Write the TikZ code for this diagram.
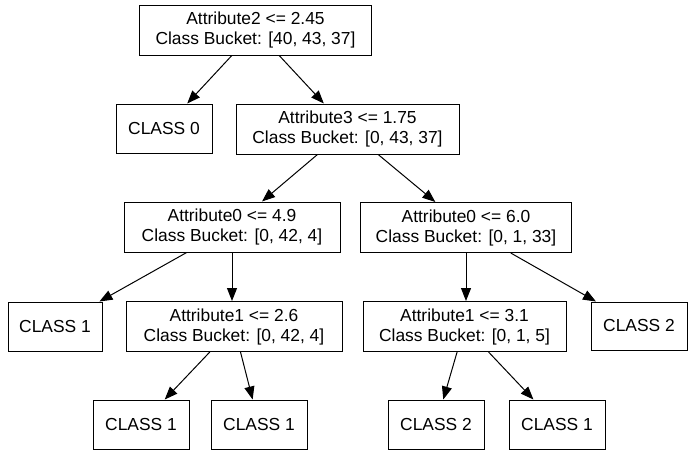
\documentclass[tikz,border=0pt]{standalone}
\usepackage{fontspec}
\setmainfont{Liberation Sans}
\usetikzlibrary{arrows.meta}
\begin{document}
\begin{tikzpicture}[x=1pt,y=-1pt,
  tnode/.style={draw=black,line width=1pt,inner sep=0pt,align=center,
    font=\fontsize{17.4}{20}\selectfont},
  edge/.style={draw=black,line width=1pt,-{Triangle[length=13pt,width=10pt]}}]
\useasboundingbox (0,0) rectangle (692,453);
\fill[white] (0,0) rectangle (692,453);
\node[tnode,minimum width=232pt,minimum height=50pt] (root) at (255.5,30) {Attribute2 <= 2.45\\ Class Bucket: [40, 43, 37]};
\node[tnode,minimum width=96pt,minimum height=49pt] (c0) at (164,128.5) {CLASS 0};
\node[tnode,minimum width=223pt,minimum height=50pt] (a3) at (347.5,129) {Attribute3 <= 1.75\\ Class Bucket: [0, 43, 37]};
\node[tnode,minimum width=216pt,minimum height=50pt] (a0l) at (232,227) {Attribute0 <= 4.9\\ Class Bucket: [0, 42, 4]};
\node[tnode,minimum width=211pt,minimum height=50pt] (a0r) at (466,227.5) {Attribute0 <= 6.0\\ Class Bucket: [0, 1, 33]};
\node[tnode,minimum width=94pt,minimum height=49pt] (c1a) at (55,326.5) {CLASS 1};
\node[tnode,minimum width=216pt,minimum height=50pt] (a1l) at (234,326.5) {Attribute1 <= 2.6\\ Class Bucket: [0, 42, 4]};
\node[tnode,minimum width=203pt,minimum height=50pt] (a1r) at (464.5,326.5) {Attribute1 <= 3.1\\ Class Bucket: [0, 1, 5]};
\node[tnode,minimum width=96pt,minimum height=48pt] (c2a) at (639,326) {CLASS 2};
\node[tnode,minimum width=96pt,minimum height=49pt] (c1b) at (141,424.5) {CLASS 1};
\node[tnode,minimum width=96pt,minimum height=49pt] (c1c) at (259,424.5) {CLASS 1};
\node[tnode,minimum width=96pt,minimum height=49pt] (c2b) at (436,424.5) {CLASS 2};
\node[tnode,minimum width=96pt,minimum height=49pt] (c1d) at (557,424.5) {CLASS 1};
\draw[edge] (root) -- (c0);
\draw[edge] (root) -- (a3);
\draw[edge] (a3) -- (a0l);
\draw[edge] (a3) -- (a0r);
\draw[edge] (a0l) -- (c1a);
\draw[edge] (a0l.south) -- (a0l.south |- a1l.north);
\draw[edge] (a1l) -- (c1b);
\draw[edge] (a1l) -- (c1c);
\draw[edge] (a0r.south) -- (a0r.south |- a1r.north);
\draw[edge] (a0r) -- (c2a);
\draw[edge] (a1r) -- (c2b);
\draw[edge] (a1r) -- (c1d);
\end{tikzpicture}
\end{document}
